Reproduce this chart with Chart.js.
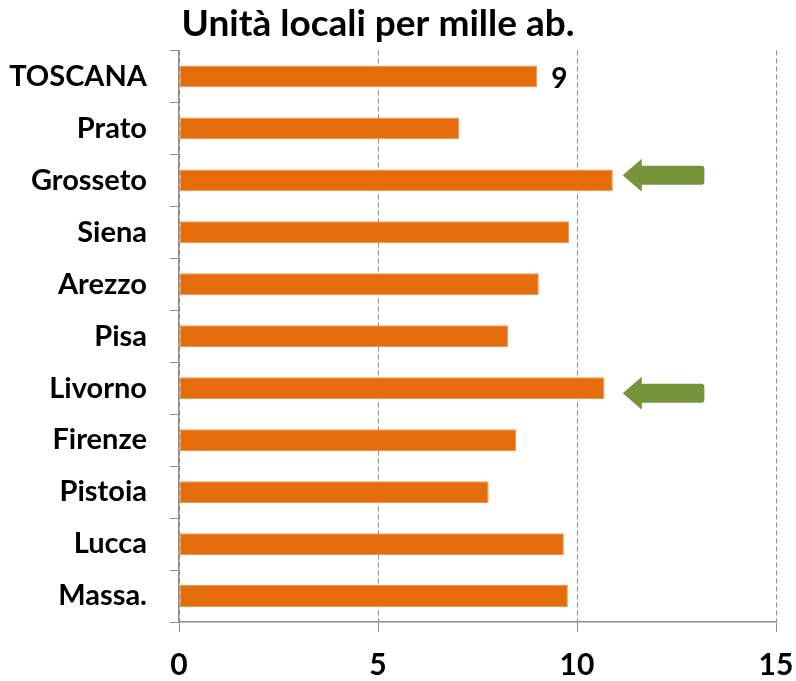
<!DOCTYPE html>
<html>
<head>
<meta charset="utf-8">
<script src="https://cdn.jsdelivr.net/npm/chart.js@4"></script>
<style>
  html, body { margin: 0; padding: 0; background: #fff; }
  #wrap { width: 796px; height: 681px; }
</style>
</head>
<body>
<div id="wrap"><canvas id="chart" width="796" height="681"></canvas></div>
<script>
// categories top to bottom
const provinces = ["TOSCANA", "Prato", "Grosseto", "Siena", "Arezzo", "Pisa",
                   "Livorno", "Firenze", "Pistoia", "Lucca", "Massa."];
// local units per thousand inhabitants
const unitsPerThousand = [9.0, 7.04, 10.9, 9.8, 9.04, 8.27, 10.69, 8.47, 7.78, 9.67, 9.77];
const xTicks = [0, 5, 10, 15];
// only the regional total has a value label
const labelled = ["TOSCANA"];
const labelText = ["9"];
// green arrows pointing at these bars (from -> to on the value axis)
const arrowRows = ["Grosseto", "Livorno"];
const arrowFrom = 13.2;
const arrowTo = 11.15;

const FONT = "Lato";

const extrasPlugin = {
  id: "extras",
  afterLayout(chart) {
    // title in the original sits a bit left of the canvas centre
    chart.titleBlock.right = chart.width - 40;
  },
  afterDatasetsDraw(chart) {
    const ctx = chart.ctx;
    const x = chart.scales.x, y = chart.scales.y;
    const meta = chart.getDatasetMeta(0);

    // value label
    ctx.save();
    ctx.fillStyle = "#000";
    ctx.font = "bold 28px " + FONT;
    ctx.textAlign = "left";
    ctx.textBaseline = "middle";
    labelled.forEach((name, i) => {
      const bar = meta.data[provinces.indexOf(name)];
      ctx.fillText(labelText[i], bar.x + 14, bar.y + 3);
    });
    ctx.restore();

    // arrows (hand placed in the original, slightly off the bar centre)
    const nudge = { Grosseto: -5, Livorno: 5 };
    ctx.save();
    ctx.fillStyle = "#77933C";
    arrowRows.forEach(name => {
      const cy = y.getPixelForValue(provinces.indexOf(name)) + (nudge[name] || 0);
      const tip = x.getPixelForValue(arrowTo);
      const tail = x.getPixelForValue(arrowFrom);
      const headLen = 19, headH = 16.5, bodyH = 9.5, r = 3;
      ctx.beginPath();
      ctx.moveTo(tip, cy);
      ctx.lineTo(tip + headLen, cy - headH);
      ctx.lineTo(tip + headLen, cy - bodyH);
      ctx.lineTo(tail - r, cy - bodyH);
      ctx.quadraticCurveTo(tail, cy - bodyH, tail, cy - bodyH + r);
      ctx.lineTo(tail, cy + bodyH - r);
      ctx.quadraticCurveTo(tail, cy + bodyH, tail - r, cy + bodyH);
      ctx.lineTo(tip + headLen, cy + bodyH);
      ctx.lineTo(tip + headLen, cy + headH);
      ctx.closePath();
      ctx.fill();
    });
    ctx.restore();
  }
};

const ctx = document.getElementById("chart").getContext("2d");
new Chart(ctx, {
  type: "bar",
  data: {
    labels: provinces,
    datasets: [{
      data: unitsPerThousand,
      backgroundColor: "#E46C0A",
      borderColor: "#EE9651",
      borderWidth: 1,
      borderSkipped: false,
      barPercentage: 0.42,
      categoryPercentage: 1
    }]
  },
  options: {
    indexAxis: "y",
    responsive: false,
    animation: false,
    layout: { padding: { left: 0, right: 20, top: 0, bottom: 0 } },
    plugins: {
      legend: { display: false },
      tooltip: { enabled: false },
      title: {
        display: true,
        text: "Unità locali per mille ab.",
        color: "#000",
        font: { family: FONT, size: 37, weight: "bold" },
        padding: { top: 2, bottom: 4 },
        align: "center"
      }
    },
    scales: {
      x: {
        min: 0,
        max: 15,
        afterBuildTicks: s => { s.ticks = xTicks.map(v => ({ value: v })); },
        afterFit: s => { s.height = 59; s.paddingRight = 0; },
        grid: {
          color: "#8c8c8c",
          lineWidth: 1,
          tickColor: "#8c8c8c",
          tickLength: 10,
          drawTicks: true
        },
        border: { display: true, color: "#8c8c8c", width: 1.5, dash: [5, 3] },
        ticks: {
          color: "#000",
          font: { family: FONT, size: 30, weight: "bold" },
          padding: 15,
          maxRotation: 0
        }
      },
      y: {
        afterFit: s => { s.width = 179; },
        grid: {
          offset: true,
          drawOnChartArea: false,
          color: "#8c8c8c",
          tickLength: 9
        },
        border: { display: true, color: "#8c8c8c", width: 1.5 },
        ticks: {
          color: "#000",
          font: { family: FONT, size: 29, weight: "bold" },
          padding: 23
        }
      }
    }
  },
  plugins: [extrasPlugin]
});
</script>
</body>
</html>
